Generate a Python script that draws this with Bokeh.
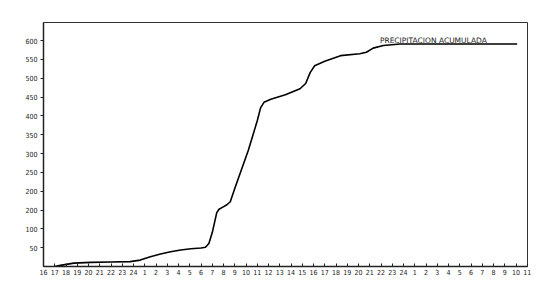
from bokeh.plotting import figure
from bokeh.models import FixedTicker, Label
from bokeh.embed import file_html
from bokeh.resources import INLINE

# hour labels along the x axis (16h day 1 ... 11h day 3)
hour_labels = [str(h) for h in range(16, 25)] + [str(h) for h in range(1, 25)] + [str(h) for h in range(1, 12)]

# elapsed hours since 16h of day 1, and accumulated precipitation (mm)
elapsed = [1.0, 1.5, 2.7, 4.2, 6.0, 7.7, 8.6, 9.5, 10.4, 11.3, 12.2, 13.1, 14.0, 14.4,
           14.7, 15.0, 15.4, 15.6, 15.9, 16.3, 16.6, 17.0, 18.2, 19.0, 19.3, 19.6, 20.2,
           21.5, 22.8, 23.3, 23.7, 24.1, 25.0, 26.4, 28.1, 28.7, 29.3, 30.2, 31.7, 34.3, 42.1]
precip = [0, 3, 9, 11, 12, 13, 17, 26, 33, 39, 44, 47, 49, 51,
          61, 90, 143, 152, 157, 164, 172, 207, 308, 387, 422, 436, 444,
          456, 472, 486, 515, 533, 545, 560, 565, 569, 580, 587, 591, 591, 591]

y_ticks = [50, 100, 150, 200, 250, 300, 350, 400, 450, 500, 550, 600]
y_tick_labels = ["50", "100", "200", "200", "250", "300", "350", "400", "450", "500", "550", "600"]

title_text = "PRECIPITACION  ACUMULADA"

p = figure(width=542, height=282, output_backend="svg", toolbar_location=None,
           x_range=(0, 43.02), y_range=(0, 648),
           min_border_left=43, min_border_right=15, min_border_top=22, min_border_bottom=16)
p.background_fill_color = "white"
p.border_fill_color = "white"
p.outline_line_color = "#333333"
p.outline_line_width = 1
p.xgrid.visible = False
p.ygrid.visible = False

p.line(elapsed, precip, line_color="black", line_width=1.6, line_join="round")

p.xaxis.ticker = FixedTicker(ticks=list(range(len(hour_labels))))
p.xaxis.major_label_overrides = {i: lab for i, lab in enumerate(hour_labels)}
p.xaxis.major_tick_in = 3
p.xaxis.major_tick_out = 0
p.xaxis.minor_tick_line_color = None
p.xaxis.axis_line_width = 1.5
p.xaxis.major_label_standoff = 2

p.yaxis.ticker = FixedTicker(ticks=y_ticks)
p.yaxis.major_label_overrides = {t: lab for t, lab in zip(y_ticks, y_tick_labels)}
p.yaxis.major_tick_in = 0
p.yaxis.major_tick_out = 3
p.yaxis.minor_tick_line_color = None
p.yaxis.axis_line_width = 1.5
p.yaxis.major_label_standoff = 3

for ax in (p.xaxis, p.yaxis):
    ax.major_label_text_font = "DejaVu Sans Condensed"
    ax.major_label_text_font_size = "7px"
    ax.major_label_text_color = "#222222"
    ax.axis_line_color = "#222222"
    ax.major_tick_line_color = "#222222"

p.add_layout(Label(x=29.9, y=601, text=title_text, text_font="DejaVu Sans",
                   text_font_size="7.5px", text_color="#222222", text_baseline="alphabetic"))

open("out.html", "w").write(file_html(p, INLINE))
